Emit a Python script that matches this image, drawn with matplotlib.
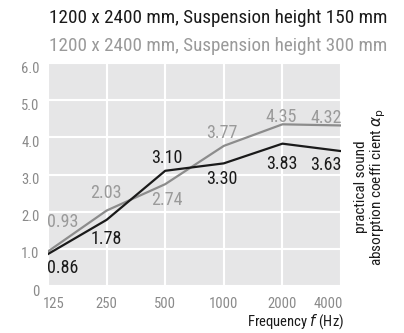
import matplotlib.pyplot as plt
from matplotlib.transforms import ScaledTranslation

plt.rcParams['font.family'] = ['Liberation Sans Narrow', 'DejaVu Sans Condensed',
                               'Roboto Condensed', 'Roboto', 'DejaVu Sans']

freqs = ['125', '250', '500', '1000', '2000', '4000']
h150 = [0.86, 1.78, 3.10, 3.30, 3.83, 3.63]
h300 = [0.93, 2.03, 2.74, 3.77, 4.35, 4.32]
yticks = [0, 1, 2, 3, 4, 5, 6]
ytick_labels = ['0', '1.0', '2.0', '3.0', '4.0', '5.0', '6.0']

# label offsets in pixels (dx, dy) from each point
off150 = [(15, -14), (0, -19), (2, 13), (-2, -16), (-1, -20), (-15, -14)]
off300 = [(15, 29), (-1, 18), (2, -16), (-2, 13), (-1, 7), (-15, 7)]

BLACK = '#1a1a1a'
GRAY = '#8c8c8c'
TXT_GRAY = '#9a9a9a'


def plot_chart():
    fig = plt.figure(figsize=(4.04, 3.33), dpi=100)
    ax = fig.add_axes([0.1188, 0.1411, 0.7253, 0.6697])
    ax.set_facecolor('#e6e6e7')
    x = list(range(len(freqs)))

    ax.plot(x, h300, color=GRAY, lw=1.6, solid_joinstyle='miter')
    ax.plot(x, h150, color=BLACK, lw=1.6, solid_joinstyle='miter')

    for i, v in enumerate(h300):
        ax.annotate(f'{v:.2f}', (i, v), xytext=off300[i], textcoords='offset pixels',
                    ha='center', va='center', fontsize=13, color=TXT_GRAY)
    for i, v in enumerate(h150):
        ax.annotate(f'{v:.2f}', (i, v), xytext=off150[i], textcoords='offset pixels',
                    ha='center', va='center', fontsize=13, color=BLACK)

    ax.set_xlim(0, 5)
    ax.set_ylim(0, 6)
    ax.set_xticks(x)
    ax.set_xticklabels(freqs)
    ax.set_yticks(yticks)
    ax.set_yticklabels(ytick_labels)
    ax.tick_params(length=0, labelsize=10.5, colors='#8a8a8a')
    ax.tick_params(axis='x', pad=8)
    ax.tick_params(axis='y', pad=6)
    shift = ScaledTranslation(0, -4 / 100, fig.dpi_scale_trans)
    for lbl in ax.get_yticklabels():
        lbl.set_transform(lbl.get_transform() + shift)
    xl = ax.get_xticklabels()
    xl[0].set_transform(xl[0].get_transform() + ScaledTranslation(6 / 100, 0, fig.dpi_scale_trans))
    xl[-1].set_transform(xl[-1].get_transform() + ScaledTranslation(-13 / 100, 0, fig.dpi_scale_trans))
    ax.grid(True, color='white', lw=1.5)
    ax.set_axisbelow(True)
    for s in ax.spines.values():
        s.set_visible(False)

    fig.text(0.121, 0.947, '1200 x 2400 mm, Suspension height 150 mm',
             fontsize=13.8, color=BLACK, va='center')
    fig.text(0.121, 0.862, '1200 x 2400 mm, Suspension height 300 mm',
             fontsize=13.8, color=TXT_GRAY, va='center')
    fig.text(0.852, 0.033, 'Frequency $\\it{f}$ (Hz)', fontsize=10.5,
             color=BLACK, ha='right', va='center')
    fig.text(0.918, 0.44, 'practical sound\nabsorption coeffi cient $\\alpha_\\mathrm{p}$',
             fontsize=11, color=BLACK, rotation=90, ha='center', va='center',
             multialignment='center', linespacing=1.0)

    fig.savefig('out.png', dpi=100)


def main():
    plot_chart()


if __name__ == "__main__":
    main()
